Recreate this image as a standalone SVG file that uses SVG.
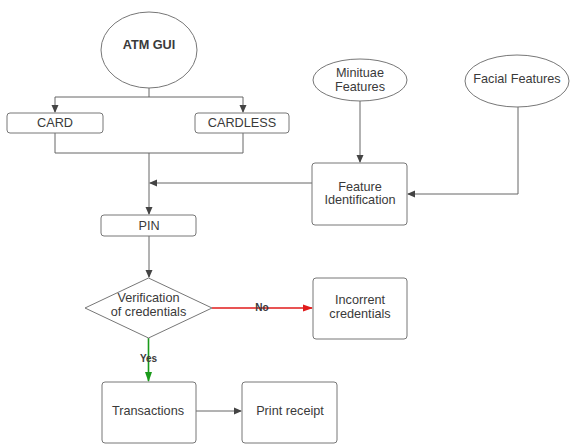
<svg xmlns="http://www.w3.org/2000/svg" width="570" height="444" viewBox="0 0 570 444">
<defs>
<marker id="ah" markerWidth="8" markerHeight="8" refX="7" refY="4" orient="auto" markerUnits="userSpaceOnUse"><path d="M0,0.5 L8,4 L0,7.5 Z" fill="#444"/></marker>
<marker id="ahr" markerWidth="10" markerHeight="8" refX="9" refY="4" orient="auto" markerUnits="userSpaceOnUse"><path d="M0,0.5 L10,4 L0,7.5 Z" fill="#e01b1b"/></marker>
<marker id="ahg" markerWidth="10" markerHeight="8" refX="9" refY="4" orient="auto" markerUnits="userSpaceOnUse"><path d="M0,0.5 L10,4 L0,7.5 Z" fill="#1a9a1a"/></marker>
<style>
.n{fill:#fff;stroke:#777;stroke-width:1}
.t{font-family:"Liberation Sans",Arial,sans-serif;font-size:12.7px;fill:#3a3a3a;text-anchor:middle;dominant-baseline:central}
.b{font-weight:bold}
.c{fill:none;stroke:#666;stroke-width:1}
</style>
</defs>
<rect width="570" height="444" fill="#fff"/>
<g id="connectors">
<path class="c" d="M149,88 V97 H55 V112" marker-end="url(#ah)"/>
<path class="c" d="M149,97 H243 V112" marker-end="url(#ah)"/>
<path class="c" d="M55,133 V153 H243 V133"/>
<path class="c" d="M149,153 V214" marker-end="url(#ah)"/>
<path class="c" d="M312,183 H150" marker-end="url(#ah)"/>
<path class="c" d="M360,101 V162" marker-end="url(#ah)"/>
<path class="c" d="M518,107 V194 H408" marker-end="url(#ah)"/>
<path class="c" d="M149,236 V277" marker-end="url(#ah)"/>
<path d="M212,308 H312" fill="none" stroke="#e01b1b" stroke-width="1.3" marker-end="url(#ahr)"/>
<path d="M148.5,338 V381" fill="none" stroke="#1a9a1a" stroke-width="1.6" marker-end="url(#ahg)"/>
<path class="c" d="M196,411 H241" marker-end="url(#ah)"/>
<text class="t b" x="262" y="307" style="font-size:10px">No</text>
<text class="t b" x="148.5" y="358" style="font-size:10px">Yes</text>
</g>
<g id="atm-gui"><ellipse class="n" cx="149" cy="50" rx="48" ry="38"/><text class="t b" x="149" y="45">ATM GUI</text></g>
<g id="card"><rect class="n" x="7" y="113" width="96" height="20" rx="3"/><text class="t" x="55" y="123">CARD</text></g>
<g id="cardless"><rect class="n" x="195" y="113" width="94" height="20" rx="3"/><text class="t" x="242" y="123">CARDLESS</text></g>
<g id="minituae"><ellipse class="n" cx="360" cy="80" rx="47" ry="21"/><text class="t" x="360" y="73">Minituae</text><text class="t" x="360" y="87">Features</text></g>
<g id="facial"><ellipse class="n" cx="517" cy="81" rx="52" ry="26"/><text class="t" x="517" y="79">Facial Features</text></g>
<g id="feature-id"><rect class="n" x="312" y="163" width="95" height="62" rx="3"/><text class="t" x="360" y="187">Feature</text><text class="t" x="360" y="200">Identification</text></g>
<g id="pin"><rect class="n" x="101" y="215" width="95" height="21" rx="3"/><text class="t" x="149" y="226">PIN</text></g>
<g id="verification"><polygon class="n" points="148.5,278 212,308 148.5,338 85,308"/><text class="t" x="148.5" y="298">Verification</text><text class="t" x="148.5" y="312">of credentials</text></g>
<g id="incorrect"><rect class="n" x="313" y="278" width="94" height="61" rx="3"/><text class="t" x="360" y="300">Incorrent</text><text class="t" x="360" y="314">credentials</text></g>
<g id="transactions"><rect class="n" x="102" y="382" width="94" height="61" rx="3"/><text class="t" x="148" y="411">Transactions</text></g>
<g id="print-receipt"><rect class="n" x="242" y="382" width="95" height="61" rx="3"/><text class="t" x="290" y="411">Print receipt</text></g>
</svg>
